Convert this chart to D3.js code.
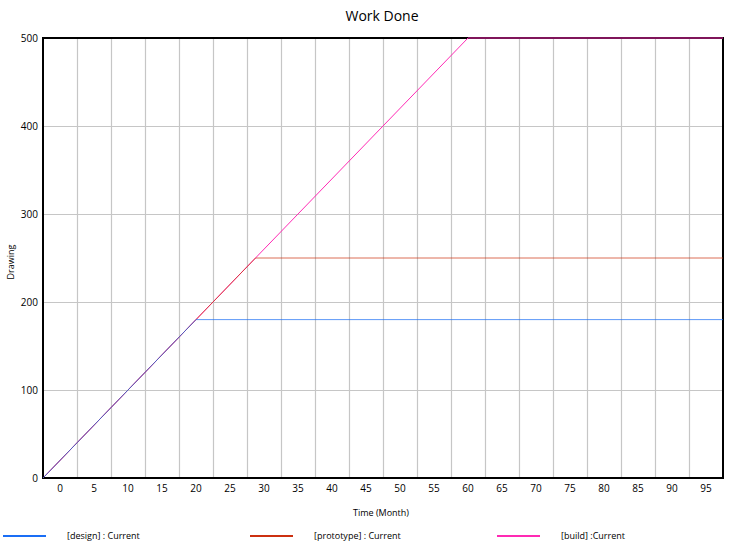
<!DOCTYPE html>
<html><head><meta charset="utf-8">
<script src="https://cdn.jsdelivr.net/npm/d3@7"></script>
<style>
html,body{margin:0;padding:0;background:#fff;}
svg{display:block;font-family:"Open Sans","Noto Sans",sans-serif;}
</style></head>
<body>
<svg id="chart" width="739" height="551"></svg>
<script>
// ---- data ----
const title = "Work Done";
const xTitle = "Time (Month)";
const yTitle = "Drawing";
const xTicks = [0,5,10,15,20,25,30,35,40,45,50,55,60,65,70,75,80,85,90,95];
const yTicks = [0,100,200,300,400,500];
const seriesNames = ["[design] : Current", "[prototype] : Current", "[build] :Current"];
const seriesColors = ["#1a6ef5", "#cc3010", "#ff2ab4"];
const designTime = [-2.5, 20, 97.5];
const designValue = [0, 180, 180];
const prototypeTime = [-2.5, 28.75, 97.5];
const prototypeValue = [0, 250, 250];
const buildTime = [-2.5, 60, 97.5];
const buildValue = [0, 500, 500];

const svg = d3.select("#chart");
const L = 43, R = 723, T = 38, B = 478;
const x = d3.scaleLinear().domain([-2.5, 97.5]).range([L, R]);
const y = d3.scaleLinear().domain([0, 500]).range([B, T]);

// gridlines
const vGrid = xTicks.slice(0, -1).map(t => t + 2.5);
svg.append("g").selectAll("line").data(vGrid).join("line")
  .attr("x1", d => Math.round(x(d)) + 0.5).attr("x2", d => Math.round(x(d)) + 0.5)
  .attr("y1", T).attr("y2", B).attr("stroke", "#c6c6c6").attr("stroke-width", 1.2);
svg.append("g").selectAll("line").data(yTicks.slice(1, -1)).join("line")
  .attr("x1", L).attr("x2", R)
  .attr("y1", d => Math.round(y(d)) + 0.5).attr("y2", d => Math.round(y(d)) + 0.5)
  .attr("stroke", "#c6c6c6").attr("stroke-width", 1.2);

// frame
svg.append("rect").attr("x", L).attr("y", T).attr("width", R - L).attr("height", B - T)
  .attr("fill", "none").attr("stroke", "#000").attr("stroke-width", 2);

// axes labels
svg.append("g").selectAll("text").data(xTicks).join("text")
  .attr("x", d => x(d)).attr("y", 492).attr("text-anchor", "middle")
  .attr("font-size", 10).attr("fill", "#000").text(d => d);
svg.append("g").selectAll("text").data(yTicks).join("text")
  .attr("x", 38).attr("y", d => y(d) + 3.5).attr("text-anchor", "end")
  .attr("font-size", 10).attr("fill", "#000").text(d => d);

// series lines
const line = d3.line().x(d => x(d[0])).y(d => y(d[1]));
const series = [
  d3.zip(designTime, designValue),
  d3.zip(prototypeTime, prototypeValue),
  d3.zip(buildTime, buildValue)
];
[2, 1, 0].forEach(i => {
  svg.append("path").datum(series[i]).attr("d", line)
    .attr("fill", "none").attr("stroke", seriesColors[i])
    .attr("stroke-width", 1).attr("stroke-opacity", i === 2 ? 1 : 0.7);
});

// titles
svg.append("text").attr("x", 382).attr("y", 21).attr("text-anchor", "middle")
  .attr("font-size", 14).attr("fill", "#000").text(title);
svg.append("text").attr("x", 381).attr("y", 516).attr("text-anchor", "middle")
  .attr("font-size", 9).attr("fill", "#000").text(xTitle);
svg.append("text").attr("transform", "translate(14,262) rotate(-90)")
  .attr("text-anchor", "middle").attr("font-size", 9).attr("fill", "#000").text(yTitle);

// legend
const legX = [3, 250, 497];
const leg = svg.append("g").selectAll("g").data(seriesNames).join("g");
leg.append("line").attr("x1", (d, i) => legX[i]).attr("x2", (d, i) => legX[i] + 43)
  .attr("y1", 536).attr("y2", 536).attr("stroke", (d, i) => seriesColors[i]).attr("stroke-width", 2);
leg.append("text").attr("x", (d, i) => legX[i] + 64).attr("y", 539)
  .attr("font-size", 9).attr("fill", "#000").text(d => d);
</script>
</body></html>
